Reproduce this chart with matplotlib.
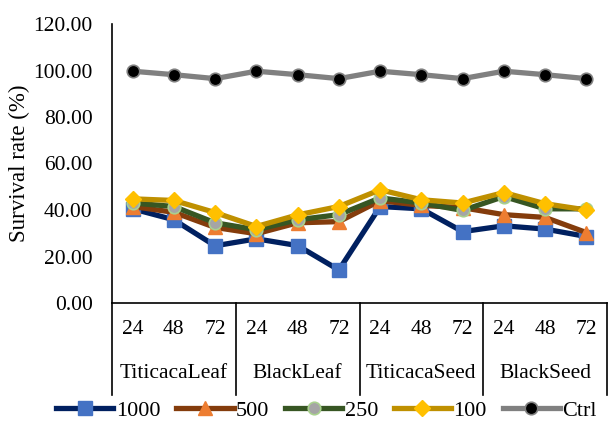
import numpy as np
import matplotlib.pyplot as plt
from matplotlib.transforms import blended_transform_factory

plt.rcParams['font.family'] = ['Liberation Serif', 'DejaVu Serif']

groups = ["TiticacaLeaf", "BlackLeaf", "TiticacaSeed", "BlackSeed"]
hours = ["24", "48", "72"]

s1000 = [40.5, 35.8, 24.6, 27.6, 24.7, 14.2, 41.5, 40.5, 30.7, 33.2, 31.8, 28.6]
s500 = [41.5, 39.0, 32.5, 29.8, 34.5, 35.0, 44.0, 42.0, 41.0, 38.0, 36.8, 30.3]
s250 = [43.0, 41.5, 34.5, 31.5, 35.8, 38.0, 45.2, 43.0, 39.8, 45.8, 40.5, 40.5]
s100 = [44.8, 44.1, 38.9, 32.9, 37.9, 41.5, 48.7, 44.4, 43.0, 47.5, 42.7, 40.0]
ctrl = [99.7, 98.2, 96.5, 99.7, 98.2, 96.5, 99.7, 98.2, 96.5, 99.7, 98.2, 96.5]

fig = plt.figure(figsize=(6.1, 4.21), dpi=100)
ax = fig.add_axes([112 / 610, 118 / 421, 495 / 610, 279 / 421])

x = np.arange(len(s1000))
ax.plot(x, s1000, color="#002060", lw=3.8, marker="s", ms=10,
        mfc="#4472C4", mec="#4472C4", label="1000")
ax.plot(x, s500, color="#843C0C", lw=3.8, marker="^", ms=10,
        mfc="#ED7D31", mec="#ED7D31", label="500")
ax.plot(x, s250, color="#375623", lw=3.8, marker="o", ms=9,
        mfc="#A5A5A5", mec="#A9D18E", mew=1.2, label="250")
ax.plot(x, s100, color="#BF9000", lw=3.8, marker="D", ms=8,
        mfc="#FFC000", mec="#FFC000", label="100")
ax.plot(x, ctrl, color="#808080", lw=3.8, marker="o", ms=9,
        mfc="black", mec="#808080", mew=1.2, label="Ctrl")

ax.set_xlim(-0.5, 11.5)
ax.set_ylim(0, 120)
ax.set_yticks(np.arange(0, 121, 20))
ax.set_yticklabels(["%.2f" % v for v in np.arange(0, 121, 20)], fontsize=15.5)
ax.tick_params(axis="y", length=0, pad=14)
ax.set_ylabel("Survival rate (%)", fontsize=16.5, labelpad=2)

ax.set_xticks(x)
ax.set_xticklabels(hours * 4, fontsize=15.5)
ax.tick_params(axis="x", length=0, pad=12)

for sp in ["top", "right"]:
    ax.spines[sp].set_visible(False)
ax.spines["left"].set_linewidth(1.2)
ax.spines["bottom"].set_linewidth(1.2)

trans = blended_transform_factory(ax.transData, ax.transAxes)
for b in [-0.5, 2.5, 5.5, 8.5, 11.5]:
    ax.plot([b, b], [0, -0.33], transform=trans, color="black", lw=1.2, clip_on=False)
for i, g in enumerate(groups):
    ax.text(3 * i + 1, -0.252, g, transform=trans, ha="center", va="center", fontsize=15.5)

fig.legend(loc="lower center", bbox_to_anchor=(0.535, -0.048), ncol=5, frameon=False,
           fontsize=16, handlelength=2.6, columnspacing=0.7, handletextpad=0.1)

fig.savefig("out.png", dpi=100)
